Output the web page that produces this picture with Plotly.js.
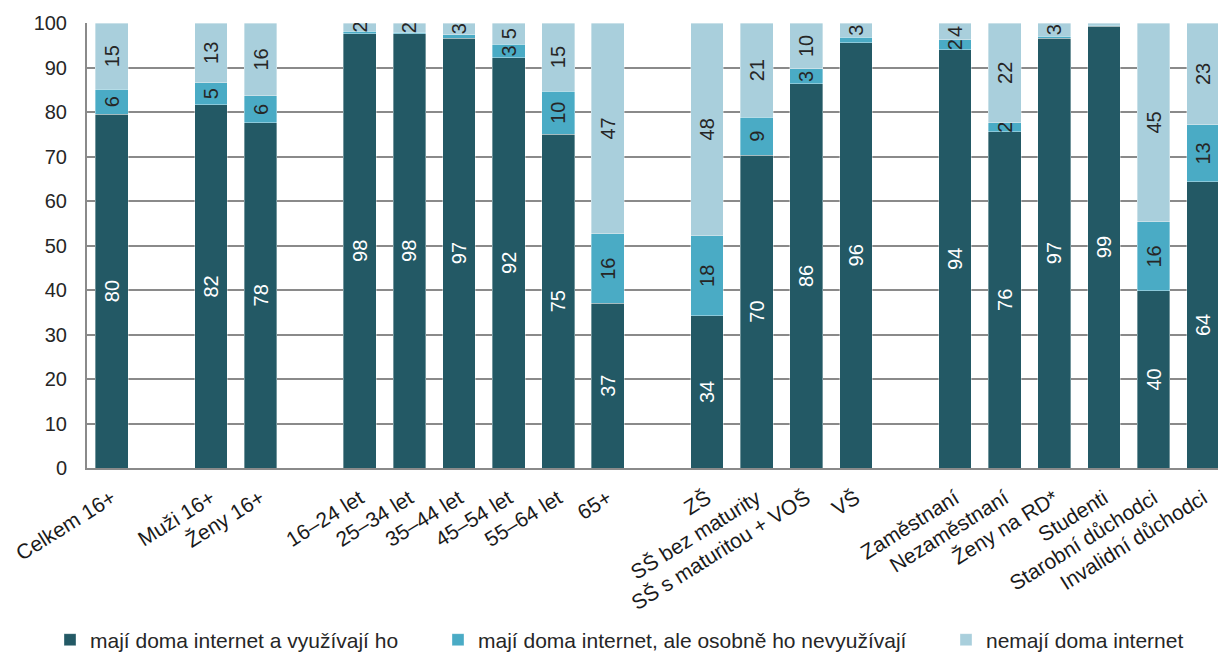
<!DOCTYPE html>
<html>
<head>
<meta charset="utf-8">
<script src="https://cdn.plot.ly/plotly-3.0.1.min.js"></script>
<style>html,body{margin:0;padding:0;background:#fff;}#chart{width:1218px;height:652px;}</style>
</head>
<body>
<div id="chart"></div>
<script>
const categories = ["Celkem 16+", "Muži 16+", "Ženy 16+", "16–24 let", "25–34 let", "35–44 let", "45–54 let", "55–64 let", "65+",
  "ZŠ", "SŠ bez maturity", "SŠ s maturitou + VOŠ", "VŠ",
  "Zaměstnaní", "Nezaměstnaní", "Ženy na RD*", "Studenti", "Starobní důchodci", "Invalidní důchodci"];
const groups = [0, 1, 1, 2, 2, 2, 2, 2, 2, 3, 3, 3, 3, 4, 4, 4, 4, 4, 4];
const useInternet   = [79.5, 81.6, 77.6, 97.6, 97.6, 96.6, 92.2, 75.0, 37.0, 34.2, 70.3, 86.3, 95.6, 94.0, 75.6, 96.6, 99.3, 39.8, 64.3];
const haveNotUse    = [5.6, 5.0, 6.0, 0.6, 0.3, 0.8, 3.0, 9.7, 15.6, 18.0, 8.5, 3.4, 1.2, 2.2, 2.0, 0.4, 0.2, 15.5, 12.8];
const noInternet    = [14.9, 13.4, 16.4, 1.8, 2.1, 2.6, 4.8, 15.3, 47.4, 47.8, 21.2, 10.3, 3.2, 3.8, 22.4, 3.0, 0.5, 44.7, 22.9];
const seriesNames = ["mají doma internet a využívají ho", "mají doma internet, ale osobně ho nevyužívají", "nemají doma internet"];
const yTicks = [0, 10, 20, 30, 40, 50, 60, 70, 80, 90, 100];

const colors = ["#235965", "#4AABC5", "#A9CFDC"];
const textColors = ["#ffffff", "#262626", "#262626"];
const legendIds = ["legend", "legend2", "legend3"];
const legendX = [50, 438, 946];
const xPos = categories.map((c, i) => i + groups[i]);
const lbl = v => v >= 1.5 ? String(Math.round(v)) : "";

const series = [useInternet, haveNotUse, noInternet];
const traces = series.map((vals, k) => ({
  type: "bar",
  name: seriesNames[k],
  legend: legendIds[k],
  x: xPos,
  y: vals,
  width: 0.66,
  text: vals.map(lbl),
  textposition: "inside",
  insidetextanchor: "middle",
  textangle: -90,
  textfont: {family: "Liberation Sans, Arial, sans-serif", size: 20, color: textColors[k]},
  marker: {color: colors[k], line: {color: "rgba(255,255,255,0.6)", width: 0.6}},
  hoverinfo: "skip"
}));

const mkLegend = px => ({
  orientation: "h",
  xref: "container", yref: "container",
  x: px / 1218, xanchor: "left",
  y: 12 / 652, yanchor: "middle",
  font: {size: 21, color: "#262626"},
  bgcolor: "rgba(0,0,0,0)"
});

const layout = {
  width: 1218, height: 652,
  margin: {l: 87, r: 0, t: 23, b: 184},
  barmode: "stack",
  paper_bgcolor: "#ffffff",
  plot_bgcolor: "#ffffff",
  font: {family: "Liberation Sans, Arial, sans-serif", size: 20, color: "#262626"},
  uniformtext: {mode: "show", minsize: 20},
  showlegend: true,
  legend: mkLegend(legendX[0]),
  legend2: mkLegend(legendX[1]),
  legend3: mkLegend(legendX[2]),
  xaxis: {
    range: [-0.5, 22.3],
    automargin: false,
    tickmode: "array",
    tickvals: xPos,
    ticktext: categories,
    tickangle: -32,
    ticks: "",
    ticklabelstandoff: 8,
    showgrid: false,
    zeroline: false,
    showline: true,
    linecolor: "#8a8a8a",
    linewidth: 2,
    tickfont: {size: 21, color: "#1a1a1a"}
  },
  yaxis: {
    range: [0, 100],
    automargin: false,
    tickmode: "array",
    tickvals: yTicks,
    ticktext: yTicks.map(String),
    ticks: "",
    ticklabelstandoff: 14,
    showgrid: true,
    gridcolor: "#8a8a8a",
    gridwidth: 2,
    zeroline: false,
    showline: true,
    linecolor: "#8a8a8a",
    linewidth: 2,
    tickfont: {size: 20, color: "#262626"}
  }
};

Plotly.newPlot("chart", traces, layout, {displayModeBar: false, staticPlot: true});
</script>
</body>
</html>
